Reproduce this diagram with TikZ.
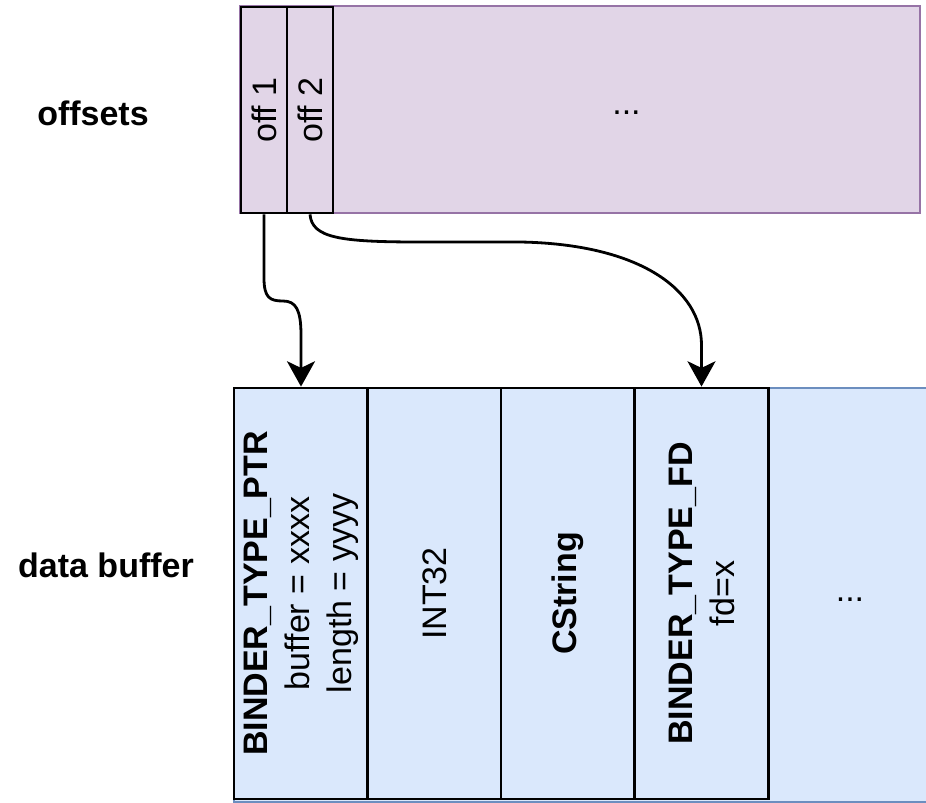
\documentclass[tikz,border=0pt]{standalone}
\usepackage{fontspec}
\setmainfont{Liberation Sans}
\usetikzlibrary{arrows.meta}
\definecolor{purplefill}{HTML}{E1D5E7}
\definecolor{purpleline}{HTML}{9673A6}
\definecolor{bluefill}{HTML}{DAE8FC}
\definecolor{blueline}{HTML}{6C8EBF}
\begin{document}
\begin{tikzpicture}[x=0.75pt,y=-0.75pt,
  txt/.style={font=\fontsize{25.5}{31.5}\selectfont, inner sep=0pt, align=center},
  heading/.style={txt, font=\fontsize{25.5}{31.5}\selectfont\bfseries},
  slot/.style={draw=black, line width=2.1pt, fill=purplefill, minimum width=34.5pt, minimum height=154.5pt, inner sep=0pt},
  cell/.style={draw=black, line width=2.1pt, fill=bluefill, minimum width=100.5pt, minimum height=308.25pt, inner sep=0pt},
  ptr/.style={line width=2.1pt, -{Stealth[length=19pt,width=21pt,inset=5pt]}}
]
\clip (0,0) rectangle (926,803);
\fill[white] (0,0) rectangle (926,803);

% row labels
\node[heading] (lboff) at (93,113) {offsets};
\node[heading] (lbbuf) at (106,565) {data buffer};

% offsets array
\node[draw=purpleline, fill=purplefill, line width=2pt, minimum width=510pt, minimum height=155.25pt, inner sep=0pt] (offarr) at (580,109.5) {};
\node[slot] (off1) at (264,110) {};
\node[slot] (off2) at (310,110) {};
\node[txt, rotate=90] at (off1) {off 1};
\node[txt, rotate=90] at (off2) {off 2};
\node[txt] (odots) at (626.5,113) {...};

% data buffer
\node[draw=blueline, fill=bluefill, line width=2pt, minimum width=529.5pt, minimum height=310.5pt, inner sep=0pt] (buf) at (587,595) {};
\node[cell] (c1) at (301,593.5) {};
\node[cell] (c2) at (434.5,593.5) {};
\node[cell] (c3) at (568,593.5) {};
\node[cell] (c4) at (701.5,593.5) {};
\node[txt, rotate=90] at (c1) {\bfseries BINDER\_TYPE\_PTR\\buffer = xxxx\\length = yyyy};
\node[txt, rotate=90] at (c2) {INT32};
\node[txt, rotate=90] at (c3) {\bfseries CString};
\node[txt, rotate=90] at (c4) {\bfseries BINDER\_TYPE\_FD\\fd=x};
\node[txt] (bdots) at (850,600) {...};

% offset pointers into the buffer
\draw[ptr] (off1.south) -- (264,278) .. controls (264,298) and (270,301) .. (283,301)
  .. controls (296,301) and (301,310) .. (301,335) -- (c1.north);
\draw[ptr] (off2.south) .. controls (312,238) and (340,242) .. (420,242) -- (520,242)
  .. controls (640,244) and (701.5,290) .. (701.5,345) -- (c4.north);
\end{tikzpicture}
\end{document}
